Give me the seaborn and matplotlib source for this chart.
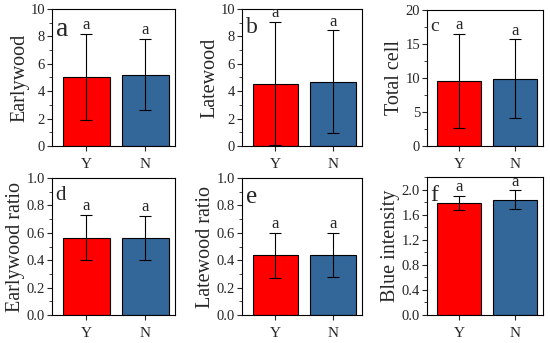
import matplotlib
matplotlib.use("Agg")
import matplotlib.pyplot as plt
import seaborn as sns
import pandas as pd
from matplotlib.ticker import MultipleLocator, AutoMinorLocator

sns.set_style("ticks")
plt.rcParams["font.family"] = ["Liberation Serif", "DejaVu Serif"]
plt.rcParams["axes.linewidth"] = 0.8

# ── Data ──────────────────────────────────────────────────────────────────
groups      = ["Y", "N"]
panel_tags  = ["a", "b", "c", "d", "e", "f"]
ylabels     = ["Earlywood", "Latewood", "Total cell",
               "Earlywood ratio", "Latewood ratio", "Blue intensity"]
means = [[5.05, 5.2], [4.55, 4.7], [9.6, 9.9],
         [0.565, 0.565], [0.435, 0.44], [1.79, 1.835]]
sds   = [[3.15, 2.6], [4.5, 3.75], [6.9, 5.8],
         [0.165, 0.16], [0.163, 0.16], [0.11, 0.15]]
sig   = [["a", "a"]] * 6

ylims  = [(0, 10), (0, 10), (0, 20), (0, 1.0), (0, 1.0), (0, 2.2)]
majors = [2, 2, 5, 0.2, 0.2, 0.4]
fmts   = ["{:.0f}", "{:.0f}", "{:.0f}", "{:.1f}", "{:.1f}", "{:.1f}"]
colors = ["#FF0000", "#336699"]
tag_sizes = [20, 17, 14, 15, 18, 17]

# axes boxes in pixels: left, top, right, bottom
boxes = [(52, 9, 175, 146), (242, 9, 362, 146), (427, 10, 543, 146),
         (52, 178, 175, 315), (242, 178, 362, 315), (427, 177, 543, 315)]

W, H = 550, 343
fig = plt.figure(figsize=(W / 100, H / 100), dpi=100)

for i in range(6):
    l, t, r, b = boxes[i]
    ax = fig.add_axes([l / W, 1 - b / H, (r - l) / W, (b - t) / H])
    df = pd.DataFrame({"group": groups, "value": means[i]})
    sns.barplot(data=df, x="group", y="value", hue="group", palette=colors,
                saturation=1, width=0.79, edgecolor="black", linewidth=0.8,
                legend=False, errorbar=None, ax=ax)
    ax.errorbar([0, 1], means[i], yerr=sds[i], fmt="none", ecolor="black",
                elinewidth=0.8, capsize=4.5, capthick=0.8)
    ax.set_ylim(*ylims[i])
    ax.set_xlim(-0.58, 1.5)
    ax.yaxis.set_major_locator(MultipleLocator(majors[i]))
    ax.yaxis.set_minor_locator(AutoMinorLocator(2))
    ax.set_yticks(ax.get_yticks())
    ax.set_yticklabels([fmts[i].format(v) for v in ax.get_yticks()])
    ax.set_ylim(*ylims[i])
    ax.tick_params(axis="both", which="major", length=3.5,
                   width=0.8, direction="out")
    ax.tick_params(axis="y", which="major", labelsize=10.5, pad=1.5)
    ax.tick_params(axis="x", which="major", labelsize=11, pad=5)
    ax.tick_params(axis="y", which="minor", length=2, width=0.6)
    ax.set_xlabel("")
    ax.set_ylabel(ylabels[i], fontsize=14.5, labelpad=1)
    for s in ax.spines.values():
        s.set_visible(True)
        s.set_color("black")
    top = ylims[i][1]
    for j in range(2):
        ax.text(j, means[i][j] + sds[i][j] + top * 0.005, sig[i][j],
                ha="center", va="bottom", fontsize=12)
    ax.text(0.03, 0.94, panel_tags[i], transform=ax.transAxes,
            ha="left", va="top", fontsize=tag_sizes[i])

fig.savefig("out.png", dpi=100)
